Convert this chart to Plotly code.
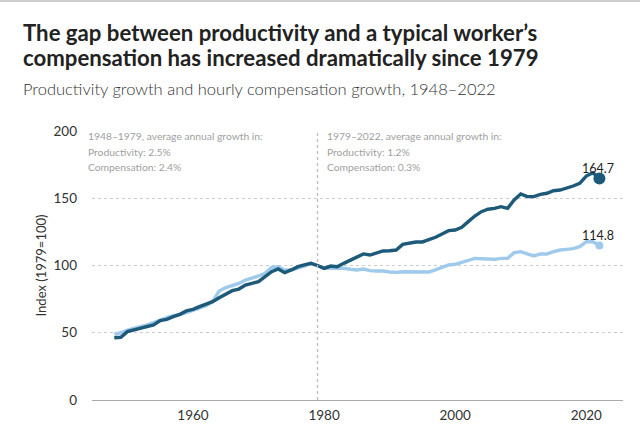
import plotly.graph_objects as go

years = list(range(1948, 2023))

productivity = [46.3, 46.6, 50.8, 52.0, 52.8, 54.3, 55.8, 59.0, 60.0, 62.0,
                63.7, 66.2, 67.4, 69.4, 71.4, 73.1, 76.0, 78.8, 81.3, 82.5,
                85.5, 86.7, 88.0, 91.7, 95.4, 97.4, 94.7, 96.7, 99.1, 100.4,
                101.6, 100.0, 97.9, 99.6, 99.1, 101.6, 104.0, 105.8, 108.6, 107.8,
                109.5, 110.8, 111.0, 111.5, 115.7, 116.5, 117.5, 117.5, 119.0, 121.0,
                123.4, 125.9, 126.4, 128.4, 132.6, 136.8, 140.0, 141.8, 142.5, 143.7,
                142.5, 148.7, 153.2, 151.2, 151.2, 152.9, 153.7, 155.6, 156.1, 157.4,
                159.1, 161.1, 166.5, 169.0, 164.7]

compensation = [49.0, 50.0, 52.0, 53.3, 54.0, 55.8, 57.5, 59.5, 61.2, 62.7,
                63.5, 65.0, 66.9, 68.4, 70.1, 73.3, 81.0, 83.5, 85.0, 86.7,
                89.2, 90.5, 92.2, 94.2, 98.6, 99.1, 96.7, 96.7, 97.9, 99.6,
                101.6, 100.0, 97.9, 97.9, 98.0, 97.9, 97.2, 96.7, 97.4, 96.2,
                95.9, 95.9, 95.2, 94.9, 95.4, 95.4, 95.6, 95.2, 95.2, 96.7,
                98.6, 100.4, 100.9, 102.4, 104.0, 105.3, 105.0, 104.6, 104.6, 105.3,
                105.3, 109.5, 110.3, 108.6, 107.1, 108.6, 108.6, 110.3, 111.5, 112.0,
                112.5, 114.0, 117.7, 117.7, 114.8]

x_ticks = [1960, 1980, 2000, 2020]
y_ticks = [0, 50, 100, 150, 200]
split_year = 1979

title_lines = ["The gap between productivity and a typical worker’s",
               "compensation has increased dramatically since 1979"]
subtitle = "Productivity growth and hourly compensation growth, 1948–2022"
note_left = ["1948–1979, average annual growth in:", "Productivity: 2.5%", "Compensation: 2.4%"]
note_right = ["1979–2022, average annual growth in:", "Productivity: 1.2%", "Compensation: 0.3%"]

DARK = "#1d5a79"
LIGHT = "#9fcaec"
FONT = "Lato"

fig = go.Figure()
fig.add_trace(go.Scatter(x=years, y=compensation, mode="lines",
                         line=dict(color=LIGHT, width=3.4), name="Compensation",
                         showlegend=False))
fig.add_trace(go.Scatter(x=years, y=productivity, mode="lines",
                         line=dict(color=DARK, width=3.4), name="Productivity",
                         showlegend=False))
# end markers
fig.add_trace(go.Scatter(x=[years[-1]], y=[compensation[-1]], mode="markers",
                         marker=dict(color=LIGHT, size=8), showlegend=False))
fig.add_trace(go.Scatter(x=[years[-1]], y=[productivity[-1]], mode="markers",
                         marker=dict(color=DARK, size=12), showlegend=False))

fig.add_annotation(x=years[-1], y=productivity[-1], text=f"{productivity[-1]:.1f}",
                   showarrow=False, yshift=10, xshift=-1,
                   font=dict(family=FONT, size=12.5, color="#222"))
fig.add_annotation(x=years[-1], y=compensation[-1], text=f"{compensation[-1]:.1f}",
                   showarrow=False, yshift=10, xshift=-1,
                   font=dict(family=FONT, size=12.5, color="#222"))

# vertical split line
fig.add_shape(type="line", x0=split_year, x1=split_year, y0=0, y1=200,
              xref="x", yref="y", line=dict(color="#bbbbbb", width=1.3, dash="dot"))

# notes
for i, t in enumerate(note_left):
    fig.add_annotation(x=1944.6, y=196 - i * 11.5, xref="x", yref="y", text=t,
                       showarrow=False, xanchor="left", yanchor="middle", xshift=-6,
                       font=dict(family=FONT, size=10.3, color="#a0a0a0"))
for i, t in enumerate(note_right):
    fig.add_annotation(x=split_year, y=196 - i * 11.5, xref="x", yref="y", text=t,
                       showarrow=False, xanchor="left", yanchor="middle", xshift=7,
                       font=dict(family=FONT, size=10.3, color="#a0a0a0"))

# titles (paper coords: x 0->92px, 1->623px; y 0->400px, 1->131px)
def px_x(p):
    return (p - 92) / 531.0

def px_y(p):
    return (400 - p) / 269.0

fig.add_annotation(x=px_x(21), y=px_y(32), xref="paper", yref="paper",
                   text=f"<b>{title_lines[0]}</b>", showarrow=False,
                   xanchor="left", yanchor="middle",
                   font=dict(family=FONT, size=22.2, color="#222"))
fig.add_annotation(x=px_x(21), y=px_y(57), xref="paper", yref="paper",
                   text=f"<b>{title_lines[1]}</b>", showarrow=False,
                   xanchor="left", yanchor="middle",
                   font=dict(family=FONT, size=22.2, color="#222"))
fig.add_annotation(x=px_x(21), y=px_y(89), xref="paper", yref="paper",
                   text=subtitle, showarrow=False,
                   xanchor="left", yanchor="middle",
                   font=dict(family=FONT, size=16.5, color="#333", weight=300))

# top border
fig.add_shape(type="rect", xref="paper", yref="paper", x0=px_x(0), x1=px_x(640),
              y0=px_y(2), y1=px_y(0), line=dict(width=0), fillcolor="#cfcfcf")

fig.update_layout(
    width=640, height=434,
    margin=dict(l=92, r=17, t=131, b=34),
    paper_bgcolor="white", plot_bgcolor="white",
    font=dict(family=FONT, color="#333"),
    xaxis=dict(range=[1944.6, 2025.6], tickvals=x_ticks, showgrid=False,
               zeroline=False, showline=False, ticks="", ticklabelstandoff=5,
               tickfont=dict(family=FONT, size=13.5, color="#333")),
    yaxis=dict(range=[0, 200], tickvals=y_ticks, showgrid=True,
               gridcolor="#cccccc", griddash="dot", gridwidth=1.3,
               zeroline=True, zerolinecolor="#aaaaaa", zerolinewidth=1.3,
               ticks="", ticklabelstandoff=14,
               tickfont=dict(family=FONT, size=13.5, color="#333"),
               title=dict(text="Index (1979=100)", standoff=3,
                          font=dict(family=FONT, size=13, color="#333"))),
)

fig.write_html("out.html", config={"displayModeBar": False},
               post_script="document.body.style.margin='0';document.body.style.overflow='hidden';")
